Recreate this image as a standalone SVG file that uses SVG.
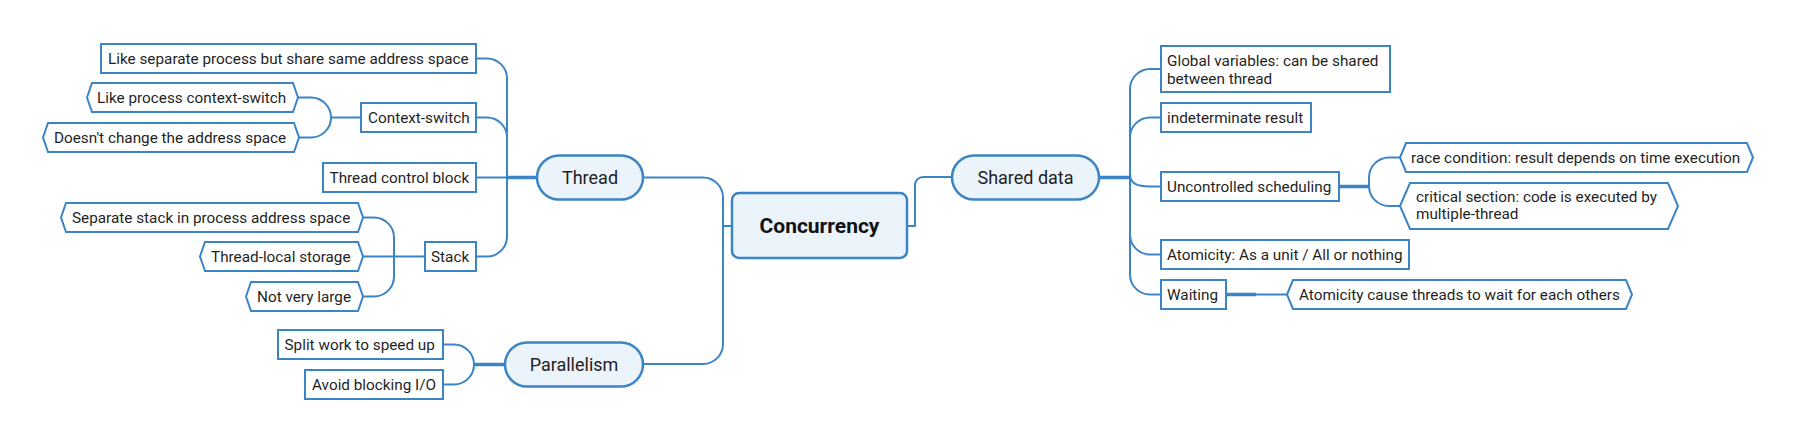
<svg xmlns="http://www.w3.org/2000/svg" width="1797" height="442" viewBox="0 0 1797 442">
<style>
  .box{fill:#ffffff;stroke:#3b84c5;stroke-width:2}
  .topic{fill:#ebf3fb;stroke:#3b84c5;stroke-width:2.5}
  .t{font-family:Roboto,"Liberation Sans",sans-serif;font-size:15.3px;fill:#1f1f1f}
  .tt{font-family:Roboto,"Liberation Sans",sans-serif;font-size:18px;fill:#1f1f1f;text-anchor:middle}
  .root{font-family:Roboto,"Liberation Sans",sans-serif;font-size:21px;font-weight:bold;fill:#111111;text-anchor:middle}
  .c{fill:none;stroke:#3b84c5;stroke-width:2}
  .ck{fill:none;stroke:#3b84c5;stroke-width:3.5}
</style>
<rect width="1797" height="442" fill="#ffffff"/>
<g id="connectors">
  <path class="c" d="M643,177.5 H703 A20,20 0 0 1 723,197.5 V344 A20,20 0 0 1 703,364 H643"/>
  <path class="c" d="M723,226 H732"/>
  <path class="c" d="M907,226 H915 V185 A8,8 0 0 1 923,177 H953"/>
  <path class="ck" d="M507,177.5 H537"/>
  <path class="c" d="M476,58.5 H487 A20,20 0 0 1 507,78.5 V236.5 A20,20 0 0 1 487,256.5 H476"/>
  <path class="c" d="M476,117.5 H487 A20,20 0 0 1 507,137.5"/>
  <path class="c" d="M476,177.5 H507"/>
  <path class="c" d="M361,117.5 H331"/>
  <path class="c" d="M298,97.5 H311 A20,20 0 0 1 331,117.5 A20,20 0 0 1 311,137.5 H299"/>
  <path class="c" d="M425,256.5 H363"/>
  <path class="c" d="M363,217.5 H374 A20,20 0 0 1 394,237.5 V276.5 A20,20 0 0 1 374,296.5 H363"/>
  <path class="ck" d="M474,364.5 H505"/>
  <path class="c" d="M443,344.5 H454 A20,20 0 0 1 474,364.5 A20,20 0 0 1 454,384.5 H443"/>
  <path class="ck" d="M1099,177.5 H1130"/>
  <path class="c" d="M1161,69 H1150 A20,20 0 0 0 1130,89 V274.5 A20,20 0 0 0 1150,294.5 H1161"/>
  <path class="c" d="M1161,117.5 H1150 A20,20 0 0 0 1130,137.5"/>
  <path class="c" d="M1130,174 C1130,183 1136,186.5 1150,186.5 H1161"/>
  <path class="c" d="M1130,234.5 A20,20 0 0 0 1150,254.5 H1161"/>
  <path class="ck" d="M1339,186.5 H1369"/>
  <path class="c" d="M1400,157.5 H1389 A20,20 0 0 0 1369,177.5 V186 A20,20 0 0 0 1389,206 H1400"/>
  <path class="ck" d="M1226,294.5 H1256"/>
  <path class="c" d="M1256,294.5 H1287"/>
</g>
<g id="root">
  <rect class="topic" x="732" y="193" width="175" height="65" rx="7"/>
  <text class="root" x="819.5" y="233">Concurrency</text>
</g>
<g id="thread">
  <rect class="topic" x="537" y="155.5" width="106" height="44" rx="22"/>
  <text class="tt" x="590" y="184">Thread</text>
</g>
<g id="parallelism">
  <rect class="topic" x="505" y="342.5" width="138" height="44" rx="22"/>
  <text class="tt" x="574" y="371">Parallelism</text>
</g>
<g id="shared-data">
  <rect class="topic" x="952" y="155.5" width="147" height="44" rx="22"/>
  <text class="tt" x="1025.5" y="184">Shared data</text>
</g>
<g id="like-separate">
  <rect class="box" x="101" y="44" width="375" height="29"/>
  <text class="t" x="108" y="64">Like separate process but share same address space</text>
</g>
<g id="context-switch">
  <rect class="box" x="361" y="103" width="115" height="29"/>
  <text class="t" x="368" y="123">Context-switch</text>
</g>
<g id="like-process">
  <polygon class="box" points="87,97.5 92,83 293,83 298,97.5 293,112 92,112"/>
  <text class="t" x="97" y="103">Like process context-switch</text>
</g>
<g id="doesnt-change">
  <polygon class="box" points="43,137.5 48,123 294,123 299,137.5 294,152 48,152"/>
  <text class="t" x="54" y="143">Doesn't change the address space</text>
</g>
<g id="tcb">
  <rect class="box" x="323" y="163" width="153" height="29"/>
  <text class="t" x="329.5" y="183">Thread control block</text>
</g>
<g id="stack">
  <rect class="box" x="425" y="242" width="51" height="29"/>
  <text class="t" x="431" y="262">Stack</text>
</g>
<g id="separate-stack">
  <polygon class="box" points="61,217.5 66,203 358,203 363,217.5 358,232 66,232"/>
  <text class="t" x="72" y="223">Separate stack in process address space</text>
</g>
<g id="thread-local">
  <polygon class="box" points="200,256.5 205,242 358,242 363,256.5 358,271 205,271"/>
  <text class="t" x="211" y="262">Thread-local storage</text>
</g>
<g id="not-very-large">
  <polygon class="box" points="246,296.5 251,282 358,282 363,296.5 358,311 251,311"/>
  <text class="t" x="257" y="302">Not very large</text>
</g>
<g id="split-work">
  <rect class="box" x="278" y="330" width="165" height="29"/>
  <text class="t" x="284.5" y="350">Split work to speed up</text>
</g>
<g id="avoid-blocking">
  <rect class="box" x="305" y="370" width="138" height="29"/>
  <text class="t" x="312" y="390">Avoid blocking I/O</text>
</g>
<g id="global-variables">
  <rect class="box" x="1161" y="46" width="229" height="46"/>
  <text class="t" x="1167" y="66">Global variables: can be shared</text>
  <text class="t" x="1167" y="84">between thread</text>
</g>
<g id="indeterminate">
  <rect class="box" x="1161" y="103" width="150" height="29"/>
  <text class="t" x="1167" y="123">indeterminate result</text>
</g>
<g id="uncontrolled">
  <rect class="box" x="1161" y="172" width="178" height="29"/>
  <text class="t" x="1167" y="192">Uncontrolled scheduling</text>
</g>
<g id="race-condition">
  <polygon class="box" points="1400,157.5 1406,143 1747,143 1753,157.5 1747,172 1406,172"/>
  <text class="t" x="1411" y="163">race condition: result depends on time execution</text>
</g>
<g id="critical-section">
  <polygon class="box" points="1400,206 1410,183 1668,183 1678,206 1668,229 1410,229"/>
  <text class="t" x="1416" y="201.5">critical section: code is executed by</text>
  <text class="t" x="1416" y="219">multiple-thread</text>
</g>
<g id="atomicity">
  <rect class="box" x="1161" y="240" width="248" height="29"/>
  <text class="t" x="1167" y="260">Atomicity: As a unit / All or nothing</text>
</g>
<g id="waiting">
  <rect class="box" x="1161" y="280" width="65" height="29"/>
  <text class="t" x="1167" y="300">Waiting</text>
</g>
<g id="atomicity-cause">
  <polygon class="box" points="1287,294.5 1293,280 1626,280 1632,294.5 1626,309 1293,309"/>
  <text class="t" x="1299" y="300">Atomicity cause threads to wait for each others</text>
</g>
</svg>
